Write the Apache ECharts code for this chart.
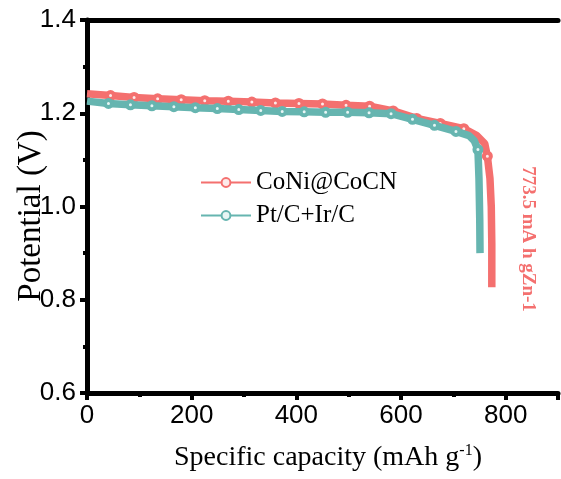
<!DOCTYPE html>
<html><head><meta charset="utf-8">
<script src="https://cdn.jsdelivr.net/npm/echarts@6/dist/echarts.min.js"></script>
<style>html,body{margin:0;padding:0;background:#fff}#c{width:561px;height:479px}</style>
</head><body><div id="c"></div>
<script>
// ---- data ----
const seriesNames = ['CoNi@CoCN', 'Pt/C+Ir/C'];
const coniCapacity = [0, 45, 90, 135, 180, 225, 270, 315, 360, 405, 450, 495, 540, 585, 630, 675, 720, 745, 760, 765, 770, 772.5, 773.5, 773.5];
const coniPotential = [1.242, 1.238, 1.234, 1.231, 1.229, 1.227, 1.226, 1.224, 1.222, 1.221, 1.220, 1.217, 1.215, 1.205, 1.189, 1.178, 1.167, 1.152, 1.135, 1.108, 1.06, 1.0, 0.92, 0.827];
const coniUnmarked = [0, 745, 760, 770, 772.5, 773.5];
const ptCapacity = [0, 41, 83, 124, 166, 207, 249, 290, 332, 373, 415, 456, 498, 539, 581, 622, 664, 705, 730, 740, 747, 749, 750.5, 751];
const ptPotential = [1.226, 1.221, 1.218, 1.216, 1.214, 1.212, 1.210, 1.208, 1.206, 1.204, 1.203, 1.202, 1.202, 1.201, 1.199, 1.187, 1.174, 1.161, 1.152, 1.141, 1.122, 1.06, 0.97, 0.90];
const ptUnmarked = [0, 730, 740, 749, 750.5, 751];
const xTickLabels = [0, 200, 400, 600, 800];
const yTickLabels = [0.6, 0.8, 1.0, 1.2, 1.4];
const annotationText = '773.5 mA h gZn-1';
const xTitle = 'Specific capacity (mAh g';
const yTitle = 'Potential (V)';

// ---- chart ----
const RED = '#F4706F', TEAL = '#66B5B0';
function build(cap, pot, unmarked) {
  return cap.map((c, i) => unmarked.includes(c)
    ? { value: [c, pot[i]], symbol: 'none' }
    : { value: [c, pot[i]] });
}
const chart = echarts.init(document.getElementById('c'), null, { renderer: 'canvas' });
const axisCommon = {
  axisLine: { lineStyle: { color: '#000', width: 5 } },
  splitLine: { show: false }
};
chart.setOption({
  animation: false,
  backgroundColor: '#fff',
  grid: { left: 87, top: 20, right: -6, bottom: 86 },
  legend: {
    left: 200, top: 170, orient: 'vertical', padding: 0, itemGap: 8,
    itemWidth: 50, itemHeight: 11,
    textStyle: { fontFamily: 'Liberation Serif', fontSize: 25, color: '#000' },
    data: seriesNames
  },
  xAxis: [{
    type: 'value', min: 0, max: 900, interval: 200, position: 'bottom',
    ...axisCommon,
    axisTick: { length: 7, lineStyle: { width: 4, color: '#000' } },
    minorTick: { show: true, splitNumber: 2, length: 4, lineStyle: { width: 4, color: '#000' } },
    axisLabel: {
      margin: 10, fontFamily: 'Liberation Sans', fontSize: 26, color: '#000',
      formatter: v => xTickLabels.includes(v) ? String(v) : ''
    }
  }, {
    type: 'value', min: 0, max: 900, position: 'top',
    ...axisCommon, axisTick: { show: false }, axisLabel: { show: false }
  }],
  yAxis: [{
    type: 'value', min: 0.6, max: 1.4, interval: 0.2,
    ...axisCommon,
    axisTick: { length: 7, lineStyle: { width: 4, color: '#000' } },
    minorTick: { show: true, splitNumber: 2, length: 4, lineStyle: { width: 4, color: '#000' } },
    axisLabel: {
      margin: 11, fontFamily: 'Liberation Sans', fontSize: 26, color: '#000',
      formatter: v => yTickLabels.some(t => Math.abs(t - v) < 1e-6) ? v.toFixed(1) : ''
    }
  }],
  series: [{
    name: seriesNames[0], type: 'line', data: build(coniCapacity, coniPotential, coniUnmarked),
    symbol: 'circle', symbolSize: 7,
    lineStyle: { color: RED, width: 7.5 },
    itemStyle: { color: '#fdeaea', borderColor: RED, borderWidth: 4 },
    z: 2
  }, {
    name: seriesNames[1], type: 'line', data: build(ptCapacity, ptPotential, ptUnmarked),
    symbol: 'circle', symbolSize: 7,
    lineStyle: { color: TEAL, width: 7.5 },
    itemStyle: { color: '#e8f6f5', borderColor: TEAL, borderWidth: 4 },
    z: 3
  }],
  graphic: [{
    type: 'text', x: 328, y: 458,
    style: {
      text: '{t|' + xTitle + '}{s|-1}{t|)}',
      align: 'center', verticalAlign: 'middle',
      rich: {
        t: { fontFamily: 'Liberation Serif', fontSize: 28, color: '#000' },
        s: { fontFamily: 'Liberation Serif', fontSize: 16, color: '#000', verticalAlign: 'top', padding: [0, 0, 14, 0] }
      }
    }
  }, {
    type: 'text', x: 31, y: 216, rotation: Math.PI / 2,
    style: {
      text: yTitle, align: 'center', verticalAlign: 'middle',
      fontFamily: 'Liberation Serif', fontSize: 33, fill: '#000'
    }
  }, {
    type: 'text', x: 528, y: 239, rotation: -Math.PI / 2,
    style: {
      text: annotationText, align: 'center', verticalAlign: 'middle',
      fontFamily: 'Liberation Serif', fontWeight: 'bold', fontSize: 19, fill: RED
    }
  }]
});
</script></body></html>
